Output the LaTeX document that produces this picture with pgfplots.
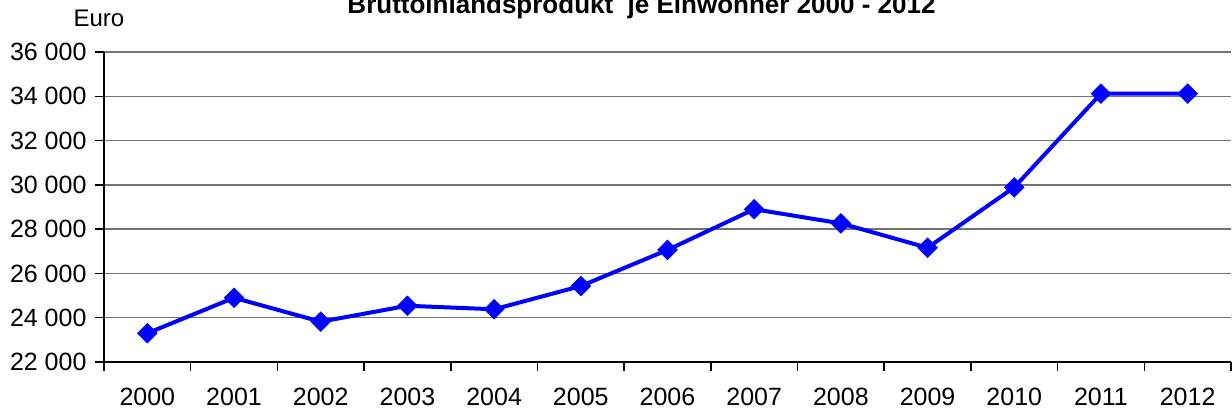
\documentclass[border=0pt]{standalone}
\usepackage{fontspec}
\setmainfont{Liberation Sans}
\usepackage{pgfplots}
\pgfplotsset{compat=1.18}
\definecolor{serieblue}{RGB}{0,0,255}
\begin{document}
\begin{tikzpicture}[x=1pt,y=1pt]
\begin{axis}[
  at={(104pt,53pt)}, anchor=south west,
  width=1127pt, height=310pt, scale only axis,
  xmin=-0.5, xmax=12.5, ymin=22000, ymax=36000,
  scaled y ticks=false,
  axis lines*=left,
  axis line style={black, line width=2.5pt},
  xtick={0,...,12},
  xticklabels={2000,2001,2002,2003,2004,2005,2006,2007,2008,2009,2010,2011,2012},
  minor xtick={-0.5,0.5,...,12.5},
  major x tick style={draw=none},
  minor x tick style={black, line width=1.5pt},
  minor tick length=9pt, major tick length=9pt,
  tick align=outside,
  ytick={22000,24000,...,36000},
  yticklabels={22 000,24 000,26 000,28 000,30 000,32 000,34 000,36 000},
  ymajorgrids, grid style={black!55, line width=1.5pt},
  ytick style={black, line width=1.5pt},
  ticklabel style={font=\fontsize{25}{29}\selectfont, text=black},
  xticklabel style={yshift=-14pt},
  yticklabel style={xshift=-5pt},
  clip=false,
]
\addplot[serieblue, line width=4pt, mark=square*, mark size=7pt,
  mark options={rotate=45, solid, fill=serieblue, draw=serieblue, line width=0.5pt}]
  coordinates {
  (0,23300) (1,24900) (2,23820) (3,24540) (4,24380) (5,25430) (6,27060)
  (7,28900) (8,28260) (9,27160) (10,29890) (11,34120) (12,34120)
  };
\end{axis}
\node[anchor=base west, font=\fontsize{24}{28}\selectfont] at (70pt,388pt) {Euro};
\node[anchor=base, font=\fontsize{26}{30}\selectfont\bfseries] at (641.5pt,401pt) {Bruttoinlandsprodukt\ \ je Einwohner 2000 - 2012};
\pgfresetboundingbox
\path[use as bounding box] (0,0) rectangle (1232pt,415pt);
\end{tikzpicture}
\end{document}
